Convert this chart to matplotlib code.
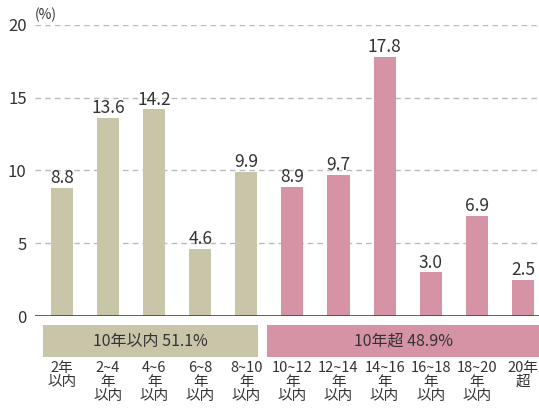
import numpy as np
import matplotlib.pyplot as plt
from matplotlib.patches import Rectangle

plt.rcParams['font.family'] = ['Noto Sans CJK JP', 'DejaVu Sans']

categories = ['2年\n以内', '2~4\n年\n以内', '4~6\n年\n以内', '6~8\n年\n以内', '8~10\n年\n以内',
              '10~12\n年\n以内', '12~14\n年\n以内', '14~16\n年\n以内', '16~18\n年\n以内',
              '18~20\n年\n以内', '20年\n超']
values = [8.8, 13.6, 14.2, 4.6, 9.9, 8.9, 9.7, 17.8, 3.0, 6.9, 2.5]
groups = ['10年以内 51.1%', '10年超 48.9%']
group_size = [5, 6]

beige = '#c9c5a9'
pink = '#d593a5'
text_col = '#333333'

fig = plt.figure(figsize=(5.39, 4.11), dpi=100)
ax = fig.add_axes([35 / 539, (411 - 316) / 411, 1 - 35 / 539, (316 - 25) / 411])

x = np.arange(len(values))
colors = [beige] * group_size[0] + [pink] * group_size[1]
ax.bar(x, values, width=0.48, color=colors, zorder=3)
for xi, v in zip(x, values):
    ax.text(xi, v + 0.05, f'{v:.1f}', ha='center', va='bottom', fontsize=12.5, color=text_col, zorder=4)

ax.set_xlim(-0.586, 10.35)
ax.set_ylim(0, 20)
ax.set_yticks([0, 5, 10, 15, 20])
for yv in [5, 10, 15, 20]:
    ax.axhline(yv, color='#bbbbbb', lw=1, ls=(0, (4, 3)), zorder=1)
ax.axhline(0, color='#444444', lw=1.2, zorder=5)
for s in ax.spines.values():
    s.set_visible(False)
ax.tick_params(axis='y', length=0, labelsize=12, labelcolor=text_col, pad=6)
ax.set_xticks([])
ax.text(-0.6, 20.2, '(%)', fontsize=10, color=text_col, ha='left', va='bottom')

# group boxes
px = 20 / 291  # data units per pixel in y
boxes = [(-0.41, 4.25), (4.45, 10.35)]
box_cols = [beige, pink]
label_x = [1.92, 7.4]
for (x0, x1), col, lab, lx in zip(boxes, box_cols, groups, label_x):
    ax.add_patch(Rectangle((x0, -(357 - 316) * px), x1 - x0, (357 - 325) * px,
                           facecolor=col, edgecolor='none', clip_on=False))
    ax.text(lx, -(341 - 316) * px, lab, ha='center', va='center', fontsize=11.5, color=text_col)

for xi, lab in zip(x, categories):
    ax.text(xi, -(361 - 316) * px, lab, ha='center', va='top', fontsize=10.5,
            color=text_col, linespacing=1.0)

fig.savefig('out.png', dpi=100)
